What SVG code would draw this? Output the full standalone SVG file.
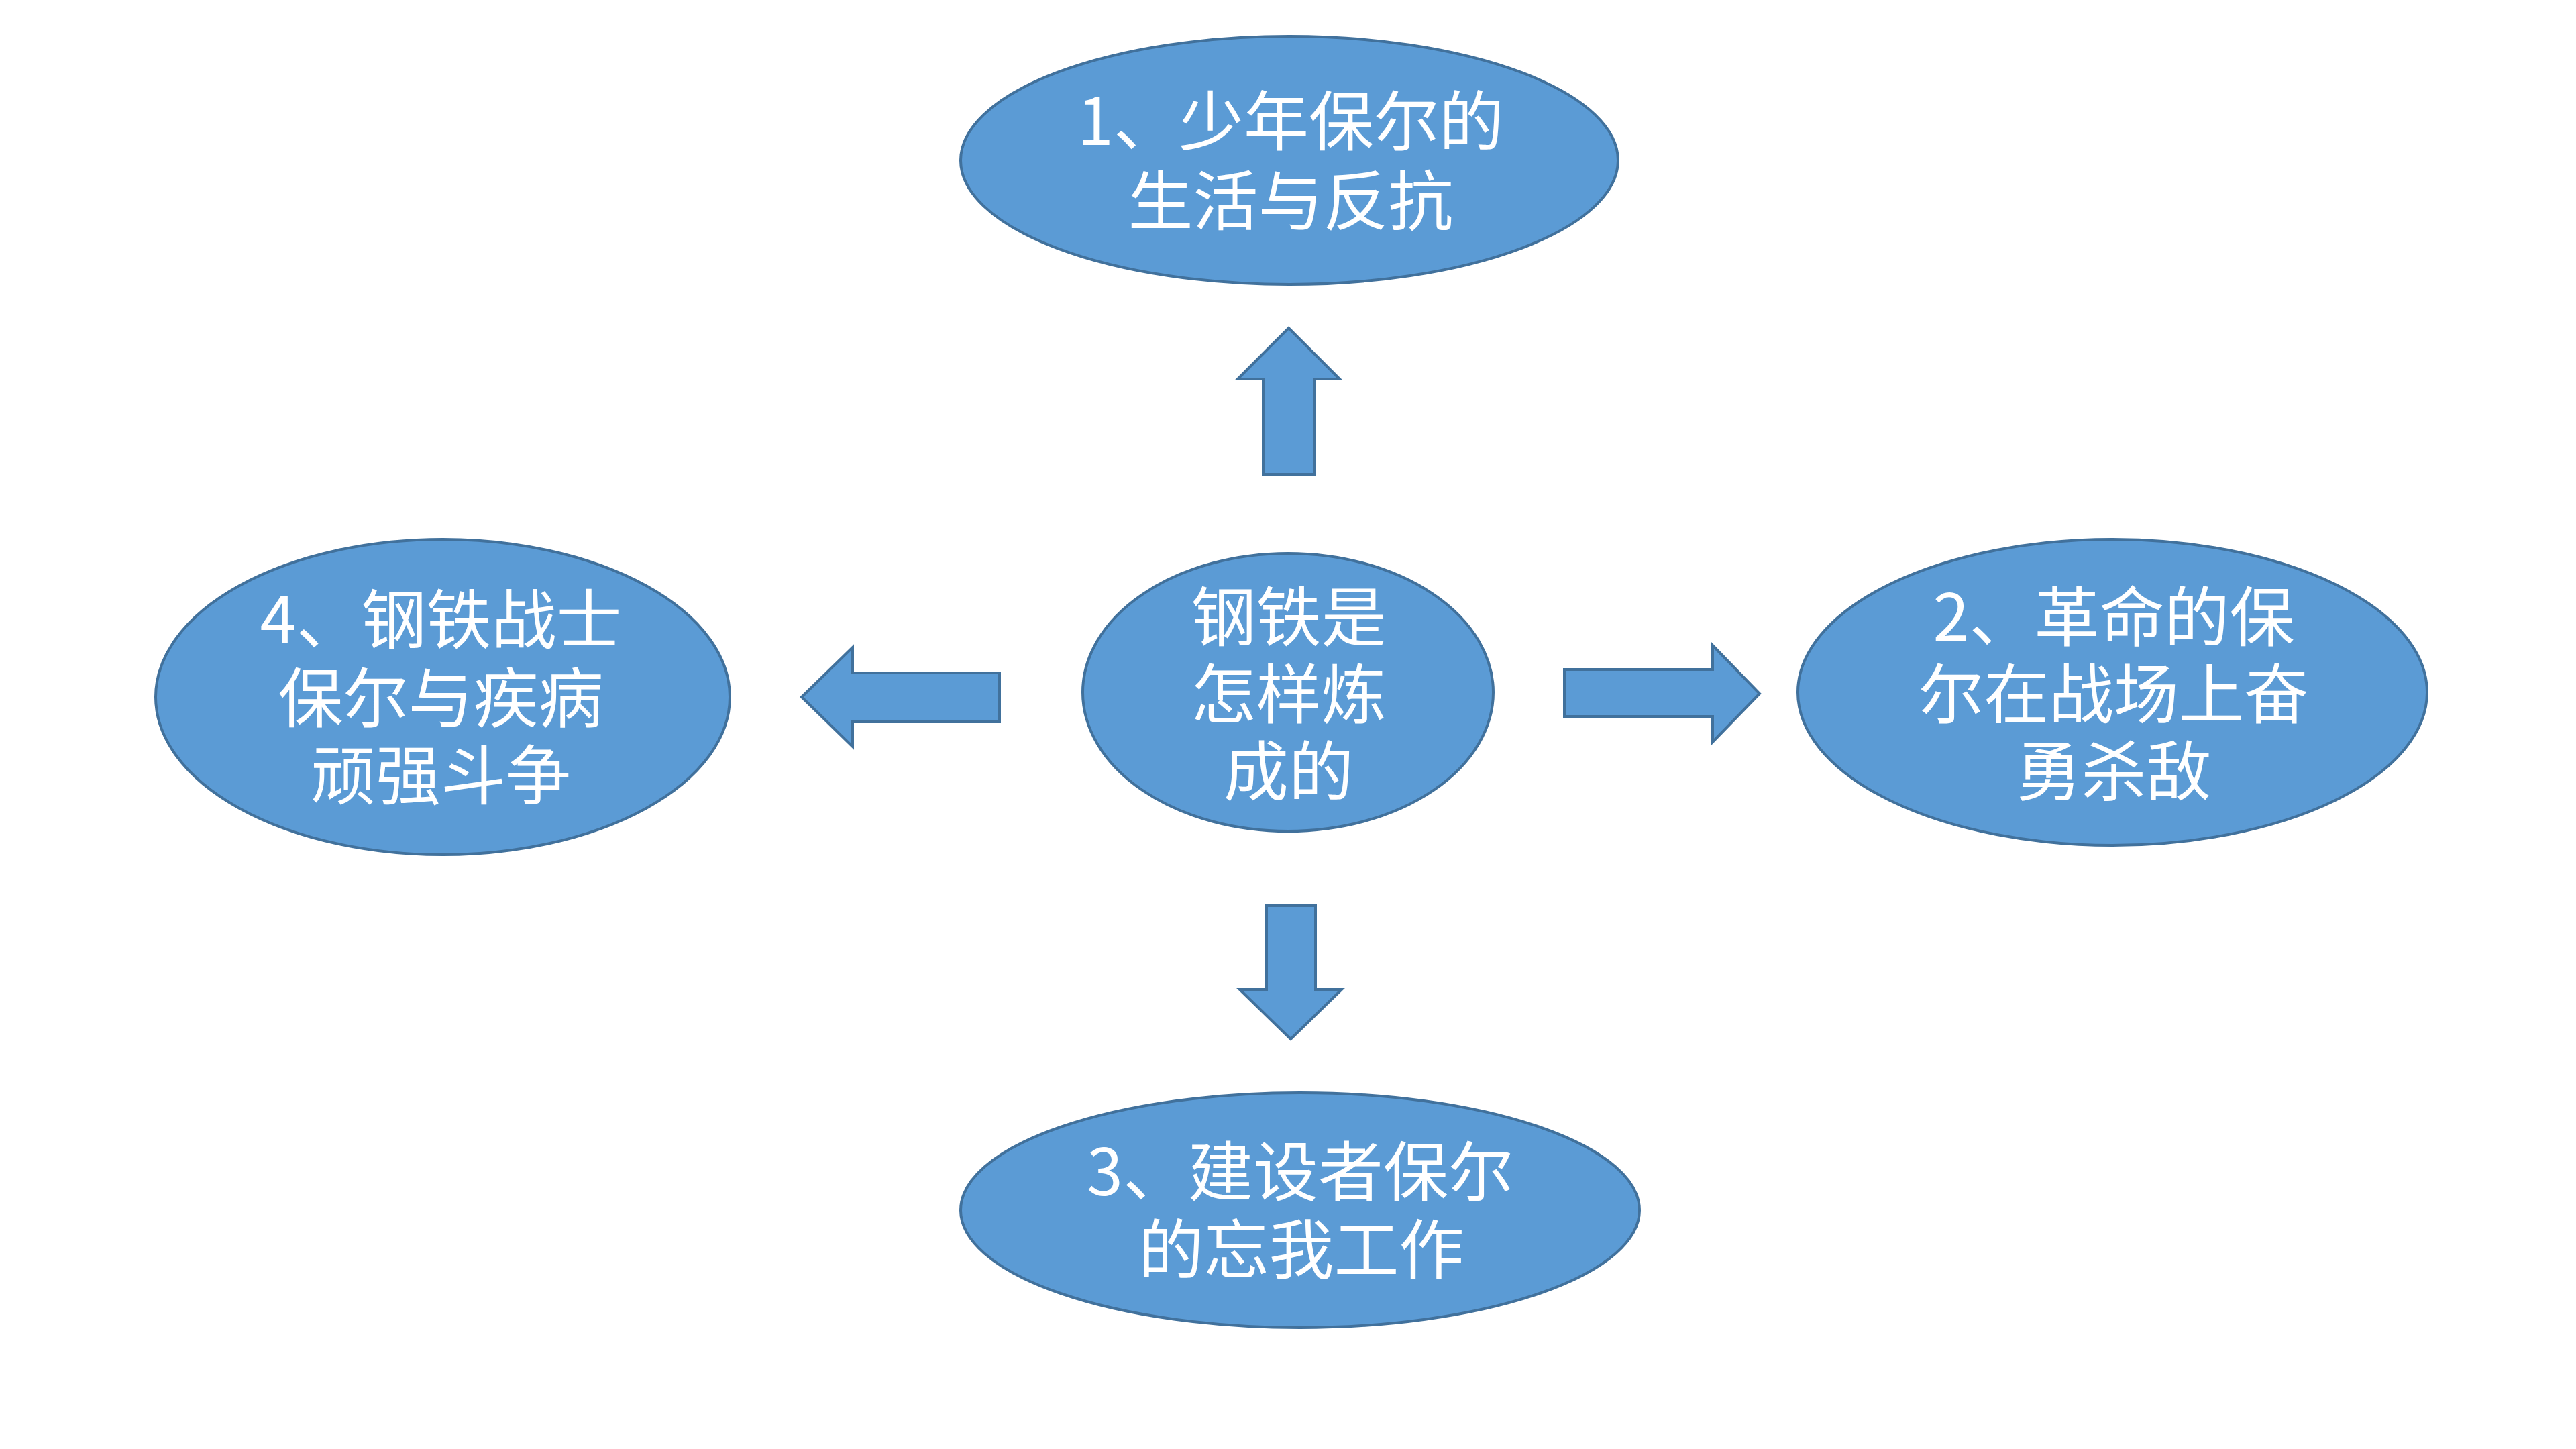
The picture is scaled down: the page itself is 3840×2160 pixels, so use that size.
<svg xmlns="http://www.w3.org/2000/svg" width="3840" height="2160" viewBox="0 0 3840 2160">
<style>
.shape{fill:#5B9BD5;stroke:#41719C;stroke-width:4;stroke-linejoin:miter}
.lbl{font-family:"Noto Sans CJK SC","Microsoft YaHei","Noto Sans",sans-serif;font-size:97px;fill:#FFFFFF;text-anchor:middle}
</style>
<rect width="3840" height="2160" fill="#FFFFFF"/>
<g id="connectors">
<polygon class="shape" points="1883,707 1883,565 1845,565 1921,489 1997,565 1959,565 1959,707"/>
<polygon class="shape" points="2332,998 2553,998 2553,962 2623,1034 2553,1106 2553,1068 2332,1068"/>
<polygon class="shape" points="1888,1350 1961,1350 1961,1475 2000,1475 1924,1549 1848,1475 1888,1475"/>
<polygon class="shape" points="1490,1003 1271,1003 1271,965 1195,1039 1271,1113 1271,1076 1490,1076"/>
</g>
<g id="node-center">
<ellipse class="shape" cx="1920" cy="1032" rx="306" ry="207"/>
<text class="lbl" x="1921" y="955">钢铁是</text>
<text class="lbl" x="1921" y="1070">怎样炼</text>
<text class="lbl" x="1921" y="1185">成的</text>
</g>
<g id="node-1">
<ellipse class="shape" cx="1922" cy="239" rx="490" ry="185"/>
<text class="lbl" x="1924" y="216">1、少年保尔的</text>
<text class="lbl" x="1924" y="335">生活与反抗</text>
</g>
<g id="node-2">
<ellipse class="shape" cx="3149" cy="1032" rx="469" ry="228"/>
<text class="lbl" x="3151" y="955">2、革命的保</text>
<text class="lbl" x="3151" y="1070">尔在战场上奋</text>
<text class="lbl" x="3151" y="1185">勇杀敌</text>
</g>
<g id="node-3">
<ellipse class="shape" cx="1938" cy="1804" rx="506" ry="175"/>
<text class="lbl" x="1938" y="1782">3、建设者保尔</text>
<text class="lbl" x="1940" y="1898">的忘我工作</text>
</g>
<g id="node-4">
<ellipse class="shape" cx="660" cy="1039" rx="428" ry="235"/>
<text class="lbl" x="657" y="959">4、钢铁战士</text>
<text class="lbl" x="657" y="1076">保尔与疾病</text>
<text class="lbl" x="657" y="1191">顽强斗争</text>
</g>
</svg>
